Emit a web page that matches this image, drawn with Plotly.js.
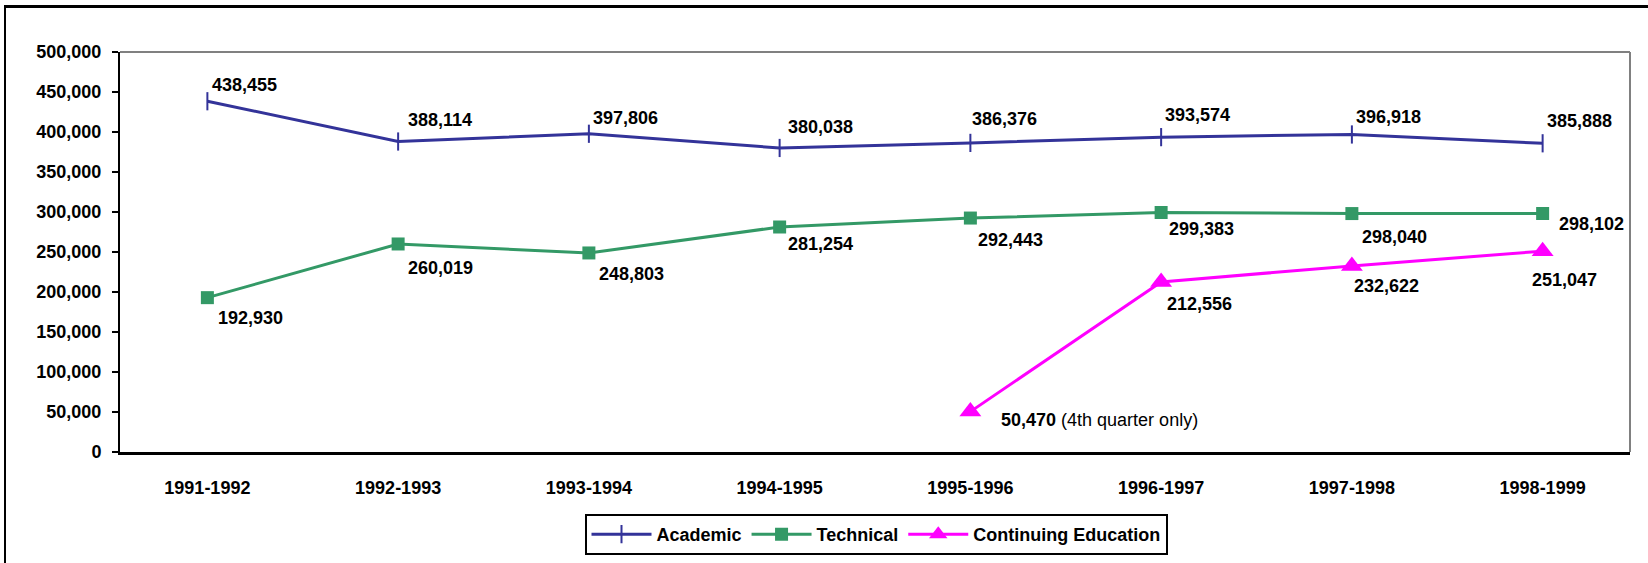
<!DOCTYPE html>
<html>
<head>
<meta charset="utf-8">
<script src="https://cdn.plot.ly/plotly-3.0.1.min.js"></script>
<style>
  html, body { margin: 0; padding: 0; background: #fff; }
  #wrap { position: relative; width: 1648px; height: 563px; overflow: hidden; }
  #chart { position: absolute; left: 0; top: 0; width: 1648px; height: 563px; }
  #frame { position: absolute; left: 4px; top: 5px; width: 1700px; height: 600px;
           border-left: 2px solid #000; border-top: 3px solid #000; pointer-events: none; }
</style>
</head>
<body>
<div id="wrap">
  <div id="chart"></div>
  <div id="frame"></div>
</div>
<script>
// ---- data ----
const years = ["1991-1992", "1992-1993", "1993-1994", "1994-1995", "1995-1996", "1996-1997", "1997-1998", "1998-1999"];
const academic = [438455, 388114, 397806, 380038, 386376, 393574, 396918, 385888];
const technical = [192930, 260019, 248803, 281254, 292443, 299383, 298040, 298102];
const continuing = [null, null, null, null, 50470, 212556, 232622, 251047];
const seriesNames = ["Academic", "Technical", "Continuing Education"];
const ceNote = "(4th quarter only)";

// label offsets (pixels) per point
const acadOff = [[3,16],[8,22],[2,16],[6,21],[0,24],[2,22],[2,17],[2,22]];
const techOff = [[9,-20],[8,-24],[8,-21],[6,-17],[6,-22],[6,-17],[8,-23],[14,-10]];
const contOff = [null,null,null,null,[29,-8],[4,-22],[0,-20],[-13,-29]];

const FONT = "Arial, 'Liberation Sans', sans-serif";
const fmt = v => v.toLocaleString("en-US");

const traces = [
  { x: years, y: academic, name: seriesNames[0], type: "scatter", mode: "lines+markers",
    line: { color: "#333399", width: 3 },
    marker: { symbol: "line-ns", size: 13, color: "#333399", line: { color: "#333399", width: 2 } } },
  { x: years, y: technical, name: seriesNames[1], type: "scatter", mode: "lines+markers",
    line: { color: "#339966", width: 3 },
    marker: { symbol: "square", size: 13, color: "#339966" } },
  { x: years, y: continuing, name: seriesNames[2], type: "scatter", mode: "lines+markers",
    line: { color: "#FF00FF", width: 3 }, connectgaps: false,
    marker: { symbol: "triangle-up", size: 19, color: "#FF00FF" } }
];

const annotations = [];
function addLabels(vals, offs, suffix) {
  vals.forEach((v, i) => {
    if (v === null) return;
    let txt = "<b>" + fmt(v) + "</b>";
    if (suffix && i === 4) txt += " " + suffix;
    annotations.push({ x: years[i], y: v, xref: "x", yref: "y", text: txt, showarrow: false,
      xanchor: "left", yanchor: "middle", xshift: offs[i][0], yshift: offs[i][1],
      font: { family: FONT, size: 18, color: "#000" } });
  });
}
addLabels(academic, acadOff);
addLabels(technical, techOff);
addLabels(continuing, contOff, ceNote);

const layout = {
  width: 1648, height: 563,
  margin: { l: 120, r: 18, t: 52, b: 111, autoexpand: false },
  paper_bgcolor: "rgba(0,0,0,0)", plot_bgcolor: "#fff",
  font: { family: FONT, color: "#000" },
  showlegend: true,
  legend: { orientation: "h", x: 876 / 1648, xref: "container", xanchor: "center",
    y: 1 - 514 / 563, yref: "container", yanchor: "top", itemwidth: 60,
    bordercolor: "#000", borderwidth: 2, bgcolor: "#fff",
    font: { family: FONT, size: 18, weight: "bold", color: "#000" } },
  xaxis: { type: "category", showgrid: false, zeroline: false, showline: true,
    linecolor: "#000", linewidth: 3, ticks: "", ticklabelstandoff: 17, automargin: false,
    tickfont: { family: FONT, size: 18, weight: "bold", color: "#000" } },
  yaxis: { range: [0, 500000], dtick: 50000, tickformat: ",", showgrid: false, zeroline: false,
    showline: true, linecolor: "#000", linewidth: 2, ticks: "outside", ticklen: 6,
    tickwidth: 2, tickcolor: "#000", ticklabelstandoff: 7, automargin: false,
    tickfont: { family: FONT, size: 18, weight: "bold", color: "#000" } },
  shapes: [
    { type: "line", xref: "paper", yref: "paper", x0: 0, x1: 1, y0: 1, y1: 1, line: { color: "#808080", width: 2 } },
    { type: "line", xref: "paper", yref: "paper", x0: 1, x1: 1, y0: 0, y1: 1, line: { color: "#808080", width: 2 } }
  ],
  annotations: annotations
};

Plotly.newPlot("chart", traces, layout, { displayModeBar: false, staticPlot: true });
</script>
</body>
</html>
